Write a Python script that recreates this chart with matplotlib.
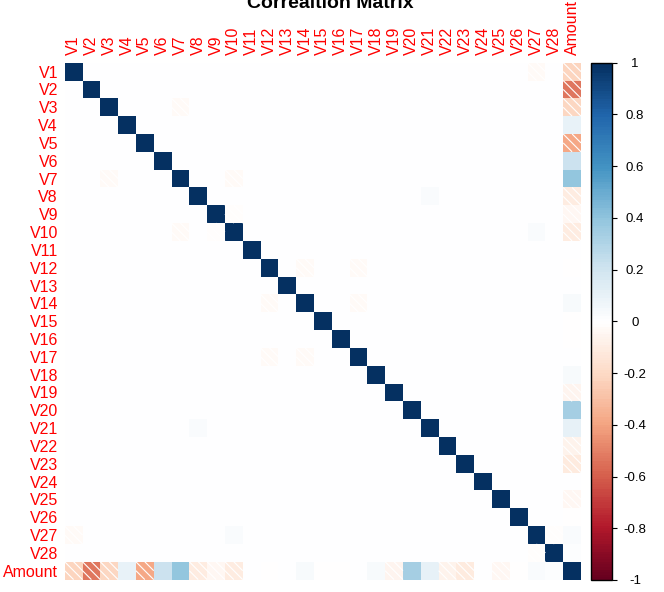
import numpy as np
import matplotlib
matplotlib.use("Agg")
import matplotlib.pyplot as plt
from matplotlib.colors import LinearSegmentedColormap, ListedColormap
from matplotlib.collections import LineCollection

plt.rcParams['font.family'] = ['Liberation Sans', 'DejaVu Sans']
plt.rcParams['axes.unicode_minus'] = False

# ---------------- data ----------------
labels = [f"V{i}" for i in range(1, 29)] + ["Amount"]

# correlation of each V-variable with Amount (V1..V28)
amount_corr = [-0.227, -0.531, -0.211, 0.099, -0.386, 0.216, 0.397, -0.103, -0.044, -0.102,
               0.000, -0.010, 0.005, 0.034, -0.003, -0.004, 0.007, 0.036, -0.056, 0.339,
               0.106, -0.065, -0.113, 0.005, -0.048, -0.003, 0.029, 0.010]

# small non-zero correlations between V-variables
pair_a = ["V3", "V7", "V9", "V12", "V12", "V14", "V1", "V27", "V8", "V10"]
pair_b = ["V7", "V10", "V10", "V14", "V17", "V17", "V27", "V28", "V21", "V27"]
pair_r = [-0.03, -0.03, -0.02, -0.03, -0.03, -0.03, -0.03, -0.02, 0.02, 0.02]

colorbar_ticks = [1, 0.8, 0.6, 0.4, 0.2, 0, -0.2, -0.4, -0.6, -0.8, -1]

# ---------------- matrix ----------------
n = len(labels)
idx = {name: k for k, name in enumerate(labels)}
M = np.eye(n)
for a, b, r in zip(pair_a, pair_b, pair_r):
    M[idx[a], idx[b]] = r
    M[idx[b], idx[a]] = r
for k, r in enumerate(amount_corr):
    M[k, n - 1] = r
    M[n - 1, k] = r

# corrplot RdBu palette (200 colours)
base = ["#67001F", "#B2182B", "#D6604D", "#F4A582", "#FDDBC7", "#FFFFFF",
        "#D1E5F0", "#92C5DE", "#4393C3", "#2166AC", "#053061"]
ramp = LinearSegmentedColormap.from_list("corr", base, N=256)
cmap = ListedColormap([ramp(v) for v in np.linspace(0, 1, 200)])

# ---------------- figure ----------------
W, H = 664, 592
fig = plt.figure(figsize=(W / 100, H / 100), dpi=100)

ax_l, ax_r, ax_t, ax_b = 64.7, 581.0, 62.7, 579.6
ax = fig.add_axes([ax_l / W, 1 - ax_b / H, (ax_r - ax_l) / W, (ax_b - ax_t) / H])
edges = np.arange(n + 1) - 0.5
mesh = ax.pcolormesh(edges, edges, M, cmap=cmap, vmin=-1, vmax=1, shading='flat')
ax.set_xlim(-0.5, n - 0.5)
ax.set_ylim(n - 0.5, -0.5)

# shading lines on negative cells
segs = []
for i in range(n):
    for j in range(n):
        if M[i, j] < 0:
            x, y = j, i
            segs.append([(x - 0.5, y - 0.5), (x + 0.5, y + 0.5)])
            segs.append([(x, y - 0.5), (x + 0.5, y)])
            segs.append([(x - 0.5, y), (x, y + 0.5)])
ax.add_collection(LineCollection(segs, colors='white', linewidths=0.8))

for s in ax.spines.values():
    s.set_visible(False)
ax.set_xticks(range(n))
ax.set_xticklabels(labels, rotation=90, color='red', fontsize=11.5)
ax.xaxis.tick_top()
ax.set_yticks(range(n))
ax.set_yticklabels(labels, color='red', fontsize=11.5)
ax.tick_params(axis='x', length=0, pad=5.5)
ax.tick_params(axis='y', length=0, pad=4.8)

# colorbar
cb_l, cb_r = 591.0, 611.7
cax = fig.add_axes([cb_l / W, 1 - 580.0 / H, (cb_r - cb_l) / W, (580.0 - 62.7) / H])
cb = fig.colorbar(mesh, cax=cax, ticks=colorbar_ticks)
cb.outline.set_linewidth(1.0)
cb.outline.set_edgecolor('black')
cax.set_yticklabels([f"{t:g}" for t in colorbar_ticks])
cax.tick_params(axis='y', length=3.6, width=0.8, pad=13.2, labelsize=9.5, right=True)
for t in cax.get_yticklabels():
    t.set_horizontalalignment('center')

fig.text(330 / W, 1 - 8.3 / H, "Correaltion Matrix", ha='center', va='baseline',
         fontsize=14, fontweight='bold')

fig.savefig("out.png", dpi=100)
